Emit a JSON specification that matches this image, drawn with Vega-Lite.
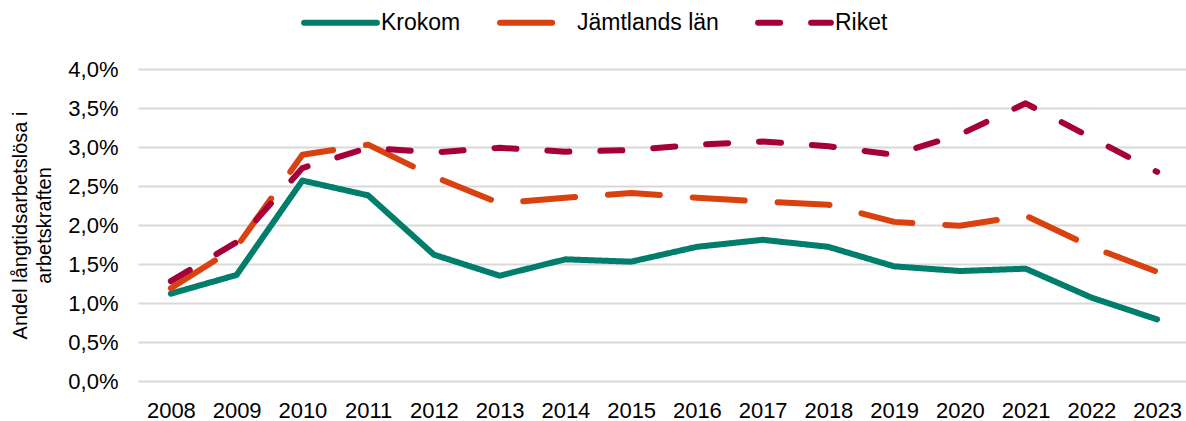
{
  "$schema": "https://vega.github.io/schema/vega-lite/v6.json",
  "width": 1052,
  "height": 312,
  "autosize": {"type": "none"},
  "padding": {"left": 138, "top": 69, "right": 0, "bottom": 40},
  "background": "white",
  "config": {
    "font": "Liberation Sans",
    "view": {"stroke": null}
  },
  "data": {
    "values": [
      {"year": "2008", "series": "Krokom", "value": 0.0112},
      {"year": "2009", "series": "Krokom", "value": 0.0136},
      {"year": "2010", "series": "Krokom", "value": 0.0257},
      {"year": "2011", "series": "Krokom", "value": 0.0238},
      {"year": "2012", "series": "Krokom", "value": 0.0162},
      {"year": "2013", "series": "Krokom", "value": 0.0135},
      {"year": "2014", "series": "Krokom", "value": 0.0156},
      {"year": "2015", "series": "Krokom", "value": 0.0153},
      {"year": "2016", "series": "Krokom", "value": 0.0172},
      {"year": "2017", "series": "Krokom", "value": 0.0181},
      {"year": "2018", "series": "Krokom", "value": 0.0172},
      {"year": "2019", "series": "Krokom", "value": 0.0147},
      {"year": "2020", "series": "Krokom", "value": 0.0141},
      {"year": "2021", "series": "Krokom", "value": 0.0144},
      {"year": "2022", "series": "Krokom", "value": 0.0107},
      {"year": "2023", "series": "Krokom", "value": 0.0079},
      {"year": "2008", "series": "Jämtlands län", "value": 0.0119},
      {"year": "2009", "series": "Jämtlands län", "value": 0.0172},
      {"year": "2010", "series": "Jämtlands län", "value": 0.0290},
      {"year": "2011", "series": "Jämtlands län", "value": 0.0303},
      {"year": "2012", "series": "Jämtlands län", "value": 0.0262},
      {"year": "2013", "series": "Jämtlands län", "value": 0.0228},
      {"year": "2014", "series": "Jämtlands län", "value": 0.0235},
      {"year": "2015", "series": "Jämtlands län", "value": 0.0241},
      {"year": "2016", "series": "Jämtlands län", "value": 0.0235},
      {"year": "2017", "series": "Jämtlands län", "value": 0.0230},
      {"year": "2018", "series": "Jämtlands län", "value": 0.0226},
      {"year": "2019", "series": "Jämtlands län", "value": 0.0204},
      {"year": "2020", "series": "Jämtlands län", "value": 0.0199},
      {"year": "2021", "series": "Jämtlands län", "value": 0.0212},
      {"year": "2022", "series": "Jämtlands län", "value": 0.0172},
      {"year": "2023", "series": "Jämtlands län", "value": 0.0140},
      {"year": "2008", "series": "Riket", "value": 0.0128},
      {"year": "2009", "series": "Riket", "value": 0.0178},
      {"year": "2010", "series": "Riket", "value": 0.0273},
      {"year": "2011", "series": "Riket", "value": 0.0299},
      {"year": "2012", "series": "Riket", "value": 0.0293},
      {"year": "2013", "series": "Riket", "value": 0.0299},
      {"year": "2014", "series": "Riket", "value": 0.0294},
      {"year": "2015", "series": "Riket", "value": 0.0296},
      {"year": "2016", "series": "Riket", "value": 0.0303},
      {"year": "2017", "series": "Riket", "value": 0.0307},
      {"year": "2018", "series": "Riket", "value": 0.0301},
      {"year": "2019", "series": "Riket", "value": 0.0290},
      {"year": "2020", "series": "Riket", "value": 0.0316},
      {"year": "2021", "series": "Riket", "value": 0.0356},
      {"year": "2022", "series": "Riket", "value": 0.0312},
      {"year": "2023", "series": "Riket", "value": 0.0268}
    ]
  },
  "mark": {"type": "line", "strokeWidth": 6, "strokeCap": "round", "strokeJoin": "round"},
  "encoding": {
    "x": {
      "field": "year",
      "type": "ordinal",
      "scale": {"type": "point", "padding": 0.5},
      "axis": {
        "title": null,
        "labelAngle": 0,
        "labelFontSize": 22,
        "labelColor": "#000000",
        "labelPadding": 19,
        "domain": false,
        "ticks": false,
        "grid": false
      }
    },
    "y": {
      "field": "value",
      "type": "quantitative",
      "scale": {"domain": [0, 0.04], "nice": false},
      "axis": {
        "values": [0, 0.005, 0.01, 0.015, 0.02, 0.025, 0.03, 0.035, 0.04],
        "labelExpr": "replace(format(datum.value, '.1%'), '.', ',')",
        "labelFontSize": 22,
        "labelColor": "#000000",
        "labelPadding": 20,
        "domain": false,
        "ticks": false,
        "gridColor": "#D9D9D9",
        "gridWidth": 2,
        "title": ["Andel långtidsarbetslösa i", "arbetskraften"],
        "titleFontSize": 20,
        "titleLineHeight": 24,
        "titleFontWeight": "normal",
        "titleColor": "#000000",
        "titlePadding": 13
      }
    },
    "color": {
      "field": "series",
      "type": "nominal",
      "sort": ["Krokom", "Jämtlands län", "Riket"],
      "scale": {"domain": ["Krokom", "Jämtlands län", "Riket"], "range": ["#007D6B", "#D9410F", "#A6003C"]},
      "legend": {
        "title": null,
        "orient": "none",
        "direction": "horizontal",
        "legendX": 163,
        "legendY": -86,
        "symbolType": "stroke",
        "symbolSize": 5300,
        "symbolStrokeWidth": 6,
        "labelFontSize": 23,
        "labelColor": "#000000",
        "labelOffset": 1,
        "columnPadding": 27,
        "encode": {"symbols": {"update": {"strokeCap": {"value": "round"}}}}
      }
    },
    "strokeDash": {
      "field": "series",
      "type": "nominal",
      "sort": ["Krokom", "Jämtlands län", "Riket"],
      "scale": {"domain": ["Krokom", "Jämtlands län", "Riket"], "range": [[1, 0], [52, 33], [22, 31]]},
      "legend": null
    }
  }
}
